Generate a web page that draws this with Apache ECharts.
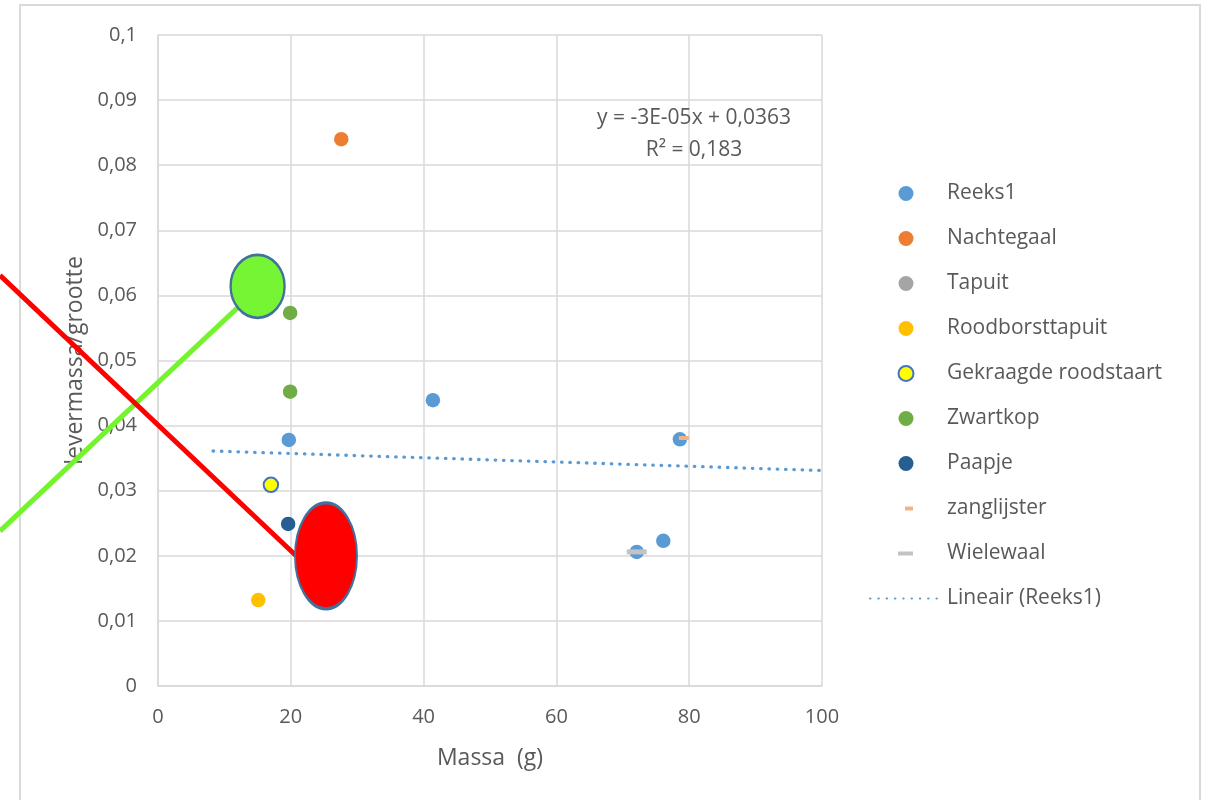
<!DOCTYPE html>
<html>
<head>
<meta charset="utf-8">
<script src="https://cdn.jsdelivr.net/npm/echarts@6/dist/echarts.min.js"></script>
<style>
html,body{margin:0;padding:0;background:#fff;}
#chart{width:1215px;height:800px;}
</style>
</head>
<body>
<div id="chart"></div>
<script>
// ---- data ----
const xTicks = [0, 20, 40, 60, 80, 100];
const yTickLabels = ['0','0,01','0,02','0,03','0,04','0,05','0,06','0,07','0,08','0,09','0,1'];

const reeks1X = [19.7, 41.4, 78.6, 76.1, 72.1];
const reeks1Y = [0.0378, 0.0439, 0.0379, 0.0223, 0.0206];
const nachtegaalX = [27.6];
const nachtegaalY = [0.0840];
const tapuitX = [25.3];
const tapuitY = [0.0200];
const roodborstX = [15.1];
const roodborstY = [0.0132];
const gekraagdeX = [17.0];
const gekraagdeY = [0.0309];
const zwartkopX = [19.9, 19.9];
const zwartkopY = [0.0573, 0.0452];
const paapjeX = [19.6];
const paapjeY = [0.0249];
const zanglijsterX = [79.2];
const zanglijsterY = [0.0381];
const wielewaalX = [72.1];
const wielewaalY = [0.0206];
const trendX = [8.3, 100];
const trendY = [0.0361, 0.0331];

const equationLines = ['y = -3E-05x + 0,0363', 'R² = 0,183'];

// hand-drawn annotations (data coordinates)
const greenLineX = [-23.8, 12.4];
const greenLineY = [0.0238, 0.0585];
const redLineX = [-23.8, 20.8];
const redLineY = [0.0631, 0.0200];
const greenEllipseX = [15.0];
const greenEllipseY = [0.0614];
const redEllipseX = [25.3];
const redEllipseY = [0.0200];

function pts(xs, ys){ return xs.map((x,i)=>[x, ys[i]]); }

const FONT = "'Open Sans', sans-serif";
const TXT = '#595959';

const chart = echarts.init(document.getElementById('chart'));

function dot(name, xs, ys, color, extra){
  return Object.assign({
    name, type:'scatter', data: pts(xs, ys), symbol:'circle', symbolSize:14.5,
    itemStyle:{color, opacity:1}, z:3
  }, extra||{});
}

const baseGraphic = [
  {id:'frame', type:'rect', shape:{x:20, y:5, width:1180, height:900}, style:{fill:'none', stroke:'#d9d9d9', lineWidth:2}, z:-10, silent:true},
  {id:'eq1', type:'text', x:694, y:118, style:{text:equationLines[0], fill:TXT, font:"21px 'Open Sans'", textAlign:'center', textVerticalAlign:'middle'}, z:5},
  {id:'eq2', type:'text', x:694, y:150, style:{text:equationLines[1], fill:TXT, font:"21px 'Open Sans'", textAlign:'center', textVerticalAlign:'middle'}, z:5}
];

const option = {
  backgroundColor:'#ffffff',
  animation:false,
  textStyle:{fontFamily:FONT},
  grid:{left:158, right:393, top:35, bottom:114, containLabel:false},
  xAxis:{
    type:'value', min:0, max:100, interval:20,
    name:'Massa  (g)', nameLocation:'middle', nameGap:61,
    nameTextStyle:{color:TXT, fontSize:23, fontFamily:FONT},
    axisLine:{show:true, lineStyle:{color:'#d9d9d9', width:1.5}},
    axisTick:{show:false},
    axisLabel:{color:TXT, fontSize:20, fontFamily:FONT, margin:21,
      formatter:(v,i)=>String(xTicks[i] !== undefined ? xTicks[i] : v)},
    splitLine:{show:true, lineStyle:{color:'#d9d9d9', width:1.5}}
  },
  yAxis:{
    type:'value', min:0, max:0.1, interval:0.01,
    name:'levermassa/grootte', nameLocation:'middle', nameGap:71, nameRotate:90,
    nameTextStyle:{color:TXT, fontSize:23, fontFamily:FONT},
    axisLine:{show:true, lineStyle:{color:'#d9d9d9', width:1.5}},
    axisTick:{show:false},
    axisLabel:{color:TXT, fontSize:20, fontFamily:FONT, margin:21,
      formatter:(v,i)=>yTickLabels[i] !== undefined ? yTickLabels[i] : String(v).replace('.',',')},
    splitLine:{show:true, lineStyle:{color:'#d9d9d9', width:1.5}}
  },
  legend:{
    orient:'vertical', left:864, top:178,
    itemWidth:72, itemHeight:15, itemGap:24,
    textStyle:{color:TXT, fontSize:21, fontFamily:FONT},
    data:[
      'Reeks1','Nachtegaal','Tapuit','Roodborsttapuit','Gekraagde roodstaart','Zwartkop','Paapje',
      {name:'zanglijster', icon:'path://M0,0M72,15M35,5.5h8v4h-8z'},
      {name:'Wielewaal', icon:'path://M0,0M72,15M28,5.5h15v4h-15z'},
      {name:'Lineair (Reeks1)', itemStyle:{opacity:0}}
    ]
  },
  graphic: baseGraphic,
  series:[
    dot('Reeks1', reeks1X, reeks1Y, '#5b9bd5'),
    dot('Nachtegaal', nachtegaalX, nachtegaalY, '#ed7d31'),
    dot('Tapuit', tapuitX, tapuitY, '#a5a5a5'),
    dot('Roodborsttapuit', roodborstX, roodborstY, '#ffc000'),
    dot('Gekraagde roodstaart', gekraagdeX, gekraagdeY, '#ffff00', {itemStyle:{color:'#ffff00', borderColor:'#4472c4', borderWidth:2, opacity:1}}),
    dot('Zwartkop', zwartkopX, zwartkopY, '#70ad47'),
    dot('Paapje', paapjeX, paapjeY, '#255e91'),
    {name:'zanglijster', type:'scatter', data:pts(zanglijsterX, zanglijsterY), symbol:'rect', symbolSize:[10,4], itemStyle:{color:'#f4b183', opacity:1}, z:4},
    {name:'Wielewaal', type:'scatter', data:pts(wielewaalX, wielewaalY), symbol:'rect', symbolSize:[20,5], itemStyle:{color:'#c3c3c3', opacity:1}, z:4},
    {name:'Lineair (Reeks1)', type:'line', data:pts(trendX, trendY), symbol:'none', showSymbol:false,
      lineStyle:{color:'#5b9bd5', width:3.3, type:[0.5,7.8], cap:'round'}, z:2},
    // annotation ellipses
    {name:'_greenEllipse', type:'scatter', data:pts(greenEllipseX, greenEllipseY), symbol:'circle', symbolSize:[54,63], silent:true,
      itemStyle:{color:'#76f535', borderColor:'#41719c', borderWidth:2.5, opacity:1}, z:8},
    {name:'_redEllipse', type:'scatter', data:pts(redEllipseX, redEllipseY), symbol:'circle', symbolSize:[62,106], silent:true,
      itemStyle:{color:'#ff0000', borderColor:'#41719c', borderWidth:2.5, opacity:1}, z:8}
  ]
};
chart.setOption(option);

// annotation lines, positioned through the axes' own scales
function px(xs, ys){ return pts(xs, ys).map(p => chart.convertToPixel({gridIndex:0}, p)); }
const g = px(greenLineX, greenLineY);
const r = px(redLineX, redLineY);
chart.setOption({
  graphic: baseGraphic.concat([
    {id:'gline', type:'line', shape:{x1:g[0][0], y1:g[0][1], x2:g[1][0], y2:g[1][1]}, style:{stroke:'#73f42c', lineWidth:5}, z:6, silent:true},
    {id:'rline', type:'line', shape:{x1:r[0][0], y1:r[0][1], x2:r[1][0], y2:r[1][1]}, style:{stroke:'#ff0000', lineWidth:5}, z:6, silent:true}
  ])
});
</script>
</body>
</html>
